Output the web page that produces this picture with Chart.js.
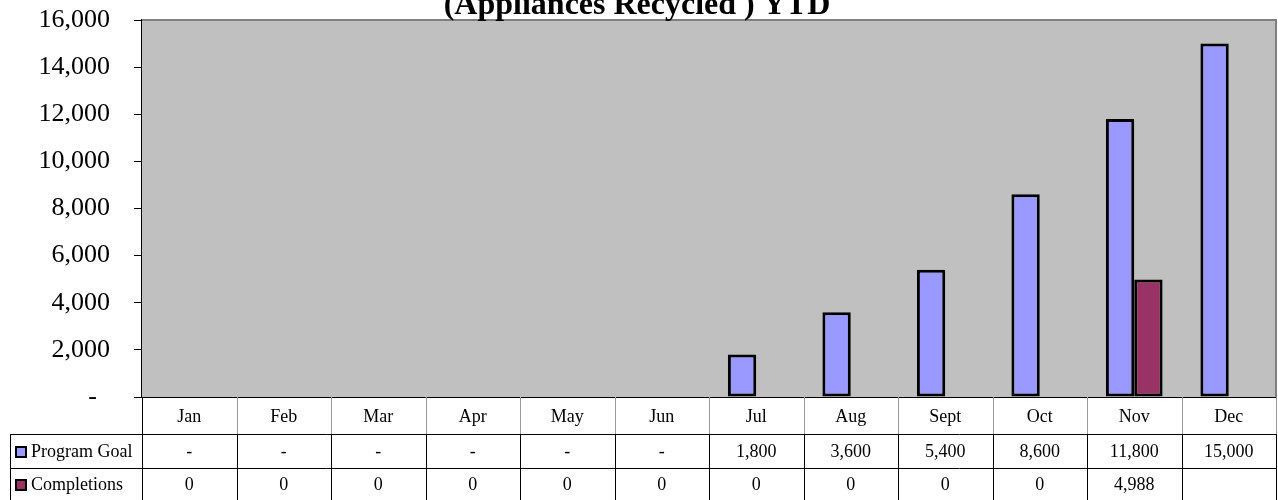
<!DOCTYPE html>
<html>
<head>
<meta charset="utf-8">
<script src="https://cdn.jsdelivr.net/npm/chart.js@4/dist/chart.umd.min.js"></script>
<style>
  html, body { margin: 0; padding: 0; background: #fff; }
  #wrap { width: 1278px; height: 500px; position: relative; }
</style>
</head>
<body>
<div id="wrap"><canvas id="c" width="1278" height="500"></canvas></div>
<script>
const titleText = '(Appliances Recycled ) YTD';
const months = ['Jan','Feb','Mar','Apr','May','Jun','Jul','Aug','Sept','Oct','Nov','Dec'];
const programGoal = [0,0,0,0,0,0,1800,3600,5400,8600,11800,15000];
const completions = [0,0,0,0,0,0,0,0,0,0,4988,null];
const seriesNames = ['Program Goal','Completions'];
const yTicks = [0,2000,4000,6000,8000,10000,12000,14000,16000];

const SERIF = "'Liberation Serif', 'Times New Roman', serif";
const fmtGoal = v => v === null ? '' : (v === 0 ? '-' : v.toLocaleString('en-US'));
const fmtComp = v => v === null ? '' : v.toLocaleString('en-US');

const decorPlugin = {
  id: 'decor',
  beforeDatasetsDraw(chart) {
    const {ctx, chartArea: a} = chart;
    ctx.save();
    ctx.fillStyle = '#C0C0C0';
    ctx.fillRect(a.left, a.top, a.right - a.left, a.bottom - a.top);
    ctx.restore();
  },
  afterDraw(chart) {
    const {ctx, chartArea: a} = chart;
    const xs = chart.scales.x;
    ctx.save();
    ctx.strokeStyle = '#808080';
    ctx.lineWidth = 2;
    ctx.beginPath();
    ctx.moveTo(a.left, a.top); ctx.lineTo(a.right, a.top); ctx.lineTo(a.right, a.bottom);
    ctx.stroke();

    ctx.fillStyle = '#000';
    ctx.font = 'bold 32px ' + SERIF;
    ctx.textAlign = 'center';
    ctx.textBaseline = 'alphabetic';
    ctx.fillText(titleText, 637, 14);

    const top = a.bottom;
    const r1 = 434, r2 = 468, bottom = 500;
    const leftEdge = 10;
    const n = months.length;
    const step = (xs.getPixelForValue(1) - xs.getPixelForValue(0));
    const bounds = [];
    for (let i = 0; i <= n; i++) bounds.push(xs.getPixelForValue(0) - step / 2 + i * step);

    ctx.lineWidth = 1;
    ctx.strokeStyle = '#9a9a9a';
    ctx.beginPath();
    for (let i = 1; i <= n; i++) { const x = Math.round(bounds[i]) + 0.5; ctx.moveTo(x, top); ctx.lineTo(x, r1); }
    ctx.stroke();
    ctx.strokeStyle = '#000';
    ctx.beginPath();
    let x0 = Math.round(bounds[0]) + 0.5;
    ctx.moveTo(x0, top); ctx.lineTo(x0, bottom);
    for (let i = 1; i <= n; i++) { const x = Math.round(bounds[i]) + 0.5; ctx.moveTo(x, r1); ctx.lineTo(x, bottom); }
    ctx.moveTo(leftEdge + 0.5, r1); ctx.lineTo(leftEdge + 0.5, bottom);
    ctx.moveTo(leftEdge, r1 + 0.5); ctx.lineTo(bounds[n], r1 + 0.5);
    ctx.moveTo(leftEdge, r2 + 0.5); ctx.lineTo(bounds[n], r2 + 0.5);
    ctx.stroke();

    ctx.font = '18px ' + SERIF;
    ctx.textAlign = 'center';
    ctx.textBaseline = 'middle';
    ctx.fillStyle = '#000';
    const rows = [
      {y: (r1 + r2) / 2 + 1, data: chart.data.datasets[0].data, fmt: fmtGoal, color: chart.data.datasets[0].backgroundColor, name: chart.data.datasets[0].label},
      {y: (r2 + bottom) / 2 + 1, data: chart.data.datasets[1].data, fmt: fmtComp, color: chart.data.datasets[1].backgroundColor, name: chart.data.datasets[1].label}
    ];
    chart.data.labels.forEach((m, i) => ctx.fillText(m, xs.getPixelForValue(i), (top + r1) / 2 + 2));
    rows.forEach(r => {
      r.data.forEach((v, i) => ctx.fillText(r.fmt(v), xs.getPixelForValue(i), r.y));
      ctx.fillStyle = r.color;
      ctx.fillRect(16, r.y - 5, 10, 10);
      ctx.strokeStyle = '#000';
      ctx.lineWidth = 2;
      ctx.strokeRect(16, r.y - 5, 10, 10);
      ctx.fillStyle = '#000';
      ctx.textAlign = 'left';
      ctx.fillText(r.name, 31, r.y);
      ctx.textAlign = 'center';
    });
    ctx.restore();
  }
};

new Chart(document.getElementById('c'), {
  type: 'bar',
  data: {
    labels: months,
    datasets: [
      { label: seriesNames[0], data: programGoal, backgroundColor: '#9999FF', borderColor: '#000', borderWidth: 3, borderSkipped: false },
      { label: seriesNames[1], data: completions, backgroundColor: '#993366', borderColor: '#000', borderWidth: 3, borderSkipped: false }
    ]
  },
  options: {
    responsive: false,
    animation: false,
    layout: { padding: { top: 20, right: 2, left: 0, bottom: 0 } },
    datasets: { bar: { categoryPercentage: 0.6, barPercentage: 1.0 } },
    plugins: { legend: { display: false }, title: { display: false }, tooltip: { enabled: false } },
    scales: {
      x: {
        afterFit: s => { s.height = 103; s.paddingLeft = 0; s.paddingRight = 0; },
        ticks: { display: false },
        grid: { display: true, drawOnChartArea: false, drawTicks: false },
        border: { display: true, color: '#000', width: 1 }
      },
      y: {
        min: 0, max: 16000,
        afterFit: s => { s.width = 142; s.paddingTop = 0; s.paddingBottom = 0; },
        afterBuildTicks: s => { s.ticks = yTicks.map(v => ({ value: v })); },
        ticks: {
          color: '#000',
          padding: 24,
          font: { family: SERIF, size: 26 },
          callback: v => v === 0 ? '-  ' : v.toLocaleString('en-US')
        },
        grid: { drawOnChartArea: false, drawTicks: true, tickLength: 8, color: '#000' },
        border: { display: true, color: '#000', width: 2 }
      }
    }
  },
  plugins: [decorPlugin]
});
</script>
</body>
</html>
